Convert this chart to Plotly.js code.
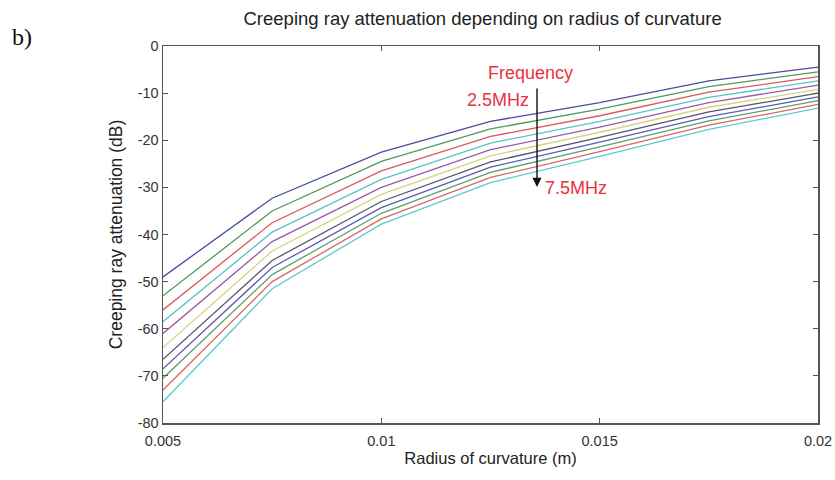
<!DOCTYPE html>
<html>
<head>
<meta charset="utf-8">
<script src="https://cdn.plot.ly/plotly-3.0.1.min.js"></script>
<style>html,body{margin:0;padding:0;background:#fff;}#chart{width:835px;height:480px;}</style>
</head>
<body>
<div id="chart"></div>
<script>
// Radius of curvature (m)
const radius = [0.005, 0.0075, 0.01, 0.0125, 0.015, 0.0175, 0.02];
// Frequencies (MHz) labelling each curve
const frequencies = [2.5, 3.0, 3.5, 4.0, 4.5, 5.0, 5.5, 6.0, 6.5, 7.0, 7.5];
// Creeping ray attenuation (dB), one array per frequency
const att_2_5 = [-49.0, -32.3, -22.5, -16.0, -12.0, -7.4, -4.5];
const att_3_0 = [-53.0, -35.0, -24.5, -17.6, -13.4, -8.6, -5.5];
const att_3_5 = [-56.0, -37.5, -26.5, -19.2, -14.8, -9.8, -6.5];
const att_4_0 = [-58.5, -39.5, -28.3, -20.6, -16.0, -10.9, -7.4];
const att_4_5 = [-61.0, -41.5, -30.0, -22.0, -17.2, -12.0, -8.3];
const att_5_0 = [-64.0, -43.5, -31.5, -23.3, -18.3, -13.0, -9.2];
const att_5_5 = [-66.5, -45.5, -33.0, -24.6, -19.4, -14.0, -10.0];
const att_6_0 = [-68.5, -47.0, -34.3, -25.7, -20.4, -15.0, -10.8];
const att_6_5 = [-70.5, -48.5, -35.5, -26.8, -21.4, -15.9, -11.6];
const att_7_0 = [-73.0, -50.0, -36.7, -27.9, -22.4, -16.8, -12.4];
const att_7_5 = [-75.5, -51.5, -37.8, -29.0, -23.4, -17.7, -13.2];
const series = [att_2_5, att_3_0, att_3_5, att_4_0, att_4_5, att_5_0, att_5_5, att_6_0, att_6_5, att_7_0, att_7_5];
const colors = ['#4b4b9e', '#4f9a5e', '#d85a5c', '#58c4c8', '#9a5aa8', '#d6d47c', '#54546e', '#5a5ab4', '#5aa06a', '#dc6466', '#5ccad0'];
// Tick values and labels (hyphen minus as in the original)
const xTicks = [0.005, 0.01, 0.015, 0.02];
const xTickText = ['0.005', '0.01', '0.015', '0.02'];
const yTicks = [0, -10, -20, -30, -40, -50, -60, -70, -80];
const yTickText = ['0', '-10', '-20', '-30', '-40', '-50', '-60', '-70', '-80'];

const traces = series.map((ys, i) => ({
  x: radius, y: ys, type: 'scatter', mode: 'lines',
  name: frequencies[i] + ' MHz',
  line: {color: colors[i], width: 1.3},
  hoverinfo: 'x+y+name'
}));

const FONT = 'Liberation Sans, Arial, sans-serif';
const axisCommon = {
  showline: true, mirror: 'allticks', linecolor: '#555', linewidth: 1.5,
  ticks: 'inside', ticklen: 5, tickcolor: '#555', tickwidth: 1.2,
  showgrid: false, zeroline: false,
  tickfont: {family: FONT, size: 14.5, color: '#333'}
};

const layout = {
  width: 835, height: 480,
  paper_bgcolor: '#fff', plot_bgcolor: '#fff',
  margin: {l: 163, r: 17, t: 46, b: 57},
  showlegend: false,
  title: {
    text: 'Creeping ray attenuation depending on radius of curvature',
    font: {family: FONT, size: 18.5, color: '#222'},
    x: 0.578, xanchor: 'center', y: 0.962, yanchor: 'middle'
  },
  xaxis: Object.assign({}, axisCommon, {
    range: [0.005, 0.02], tickvals: xTicks, ticktext: xTickText,
    ticklabelstandoff: 4,
    title: {text: 'Radius of curvature (m)', standoff: 4,
      font: {family: FONT, size: 16.5, color: '#222'}}
  }),
  yaxis: Object.assign({}, axisCommon, {
    range: [-80, 0], tickvals: yTicks, ticktext: yTickText,
    title: {text: 'Creeping ray attenuation (dB)', standoff: 10,
      font: {family: FONT, size: 17.5, color: '#222'}}
  }),
  annotations: [
    {xref: 'paper', yref: 'paper', x: -0.215, y: 1.024, xanchor: 'center', yanchor: 'middle',
     text: 'b)', showarrow: false,
     font: {family: 'Liberation Serif, DejaVu Serif, serif', size: 24, color: '#111'}},
    {xref: 'x', yref: 'y', x: 0.013427, y: -5.7, text: 'Frequency', showarrow: false,
     xanchor: 'center', yanchor: 'middle',
     font: {family: FONT, size: 18, color: '#e8323c'}},
    {xref: 'x', yref: 'y', x: 0.012672, y: -11.5, text: '2.5MHz', showarrow: false,
     xanchor: 'center', yanchor: 'middle',
     font: {family: FONT, size: 18, color: '#e8323c'}},
    {xref: 'x', yref: 'y', x: 0.014458, y: -30.1, text: '7.5MHz', showarrow: false,
     xanchor: 'center', yanchor: 'middle',
     font: {family: FONT, size: 18, color: '#e8323c'}},
    {xref: 'x', yref: 'y', x: 0.013565, y: -29.9, axref: 'x', ayref: 'y',
     ax: 0.013565, ay: -8.7, text: '', showarrow: true,
     arrowhead: 2, arrowsize: 1.3, arrowwidth: 1.4, arrowcolor: '#111'}
  ]
};

Plotly.newPlot('chart', traces, layout, {displayModeBar: false, staticPlot: true});
</script>
</body>
</html>
